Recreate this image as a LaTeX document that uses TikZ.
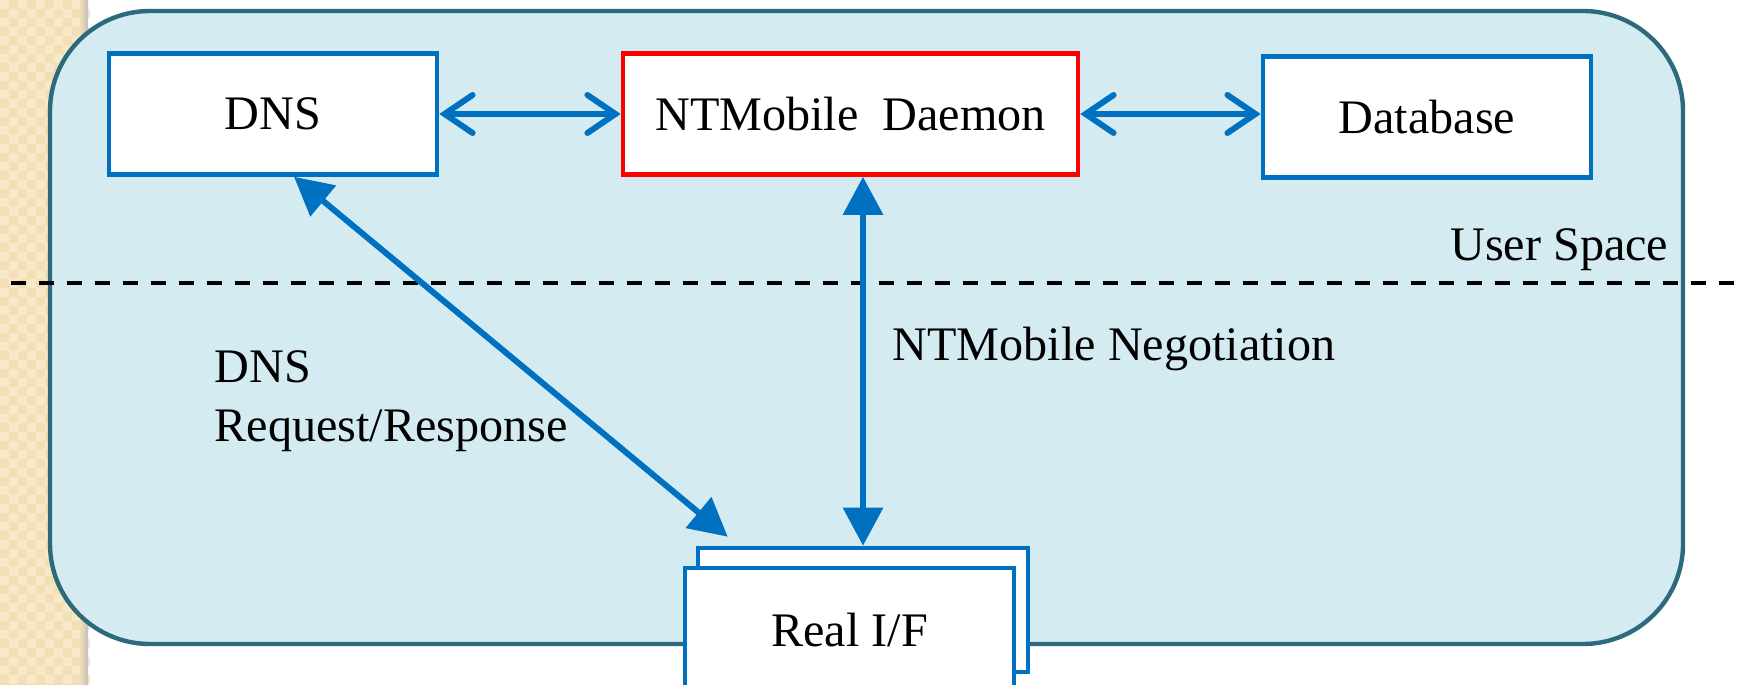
\documentclass[tikz,border=0pt]{standalone}
\usepackage{fontspec}
\setmainfont{Liberation Serif}
\usetikzlibrary{arrows.meta,positioning}
\definecolor{ifblue}{RGB}{0,112,192}
\definecolor{spacefill}{RGB}{212,235,242}
\definecolor{spaceline}{RGB}{44,106,124}
\definecolor{stripdark}{RGB}{242,223,181}
\definecolor{striplight}{RGB}{247,232,199}
\tikzset{>=stealth,
  module/.style={draw=ifblue, line width=1.3pt, fill=white, inner sep=0pt,
      minimum width=3.28cm, minimum height=1.21cm},
  link/.style={draw=ifblue, line width=1.7pt,
      {Straight Barb[length=2.8mm,width=3.8mm,line cap=round]}-{Straight Barb[length=2.8mm,width=3.8mm,line cap=round]}},
  flow/.style={draw=ifblue, line width=1.7pt,
      {Triangle[length=3.8mm,width=3.9mm]}-{Triangle[length=3.8mm,width=3.9mm]}}
}

\begin{document}
\begin{tikzpicture}[font=\fontsize{13.7}{16.5}\selectfont]
    \useasboundingbox (0,0) rectangle (17.42,-6.85);
    % textured strip on the left
    \fill[stripdark] (0,0) rectangle (0.87,-6.85);
    \foreach \j in {0,2,...,74} {
        \foreach \i in {0,2,...,8} {
            \fill[striplight] ({\i*0.09},{-\j*0.09}) rectangle ++(0.09,-0.09);
            \fill[striplight] ({\i*0.09+0.09},{-\j*0.09-0.09}) rectangle ++(0.09,-0.09);
          }}
    \shade[left color=stripdark, right color=black!25] (0.80,0) rectangle (0.88,-6.85);
    % user space
    \draw[spaceline, line width=1.25pt, fill=spacefill, rounded corners=1cm]
    (0.50,-0.11) rectangle (16.83,-6.44);
    \draw[line width=1.1pt, dash pattern=on 1.5mm off 1.3mm] (0.11,-2.83) -- (17.42,-2.83);
    \node[anchor=base east, inner sep=0] (userlbl) at (16.69,-2.61) {User Space};

    \node[module] (dns) at (2.73,-1.14) {DNS};
    \node[module, draw=red, minimum width=4.55cm] (daemon) at (8.505,-1.14) {NTMobile\ \ Daemon};
    \node[module] (database) at (14.27,-1.17) {Database};
    \draw[link] (dns) -- (daemon);
    \draw[link] (daemon.east) -- (daemon.east -| database.west);

    \node[module, minimum width=3.30cm, minimum height=1.24cm] (realifback) at (8.63,-6.10) {};
    \node[module, minimum width=3.29cm, minimum height=1.24cm] (realif) at (8.495,-6.30) {Real I/F};

    \coordinate (dnsfoot) at ([xshift=2.1mm]dns.south);
    \coordinate (iftop) at ([xshift=3.2mm,yshift=0.9mm]realifback.north west);
    \draw[flow] (dnsfoot) -- (iftop);
    \draw[flow] (daemon.south -| realifback.north) -- (realifback.north);

    \node[anchor=base west, inner sep=0] (neglbl) at (8.92,-3.61) {NTMobile Negotiation};
    \node[anchor=base west, inner sep=0] (dnslbl) at (2.14,-3.83) {DNS};
    \node[anchor=base west, inner sep=0] (reqlbl) at (2.14,-4.41) {Request/Response};
  \end{tikzpicture}
\end{document}
